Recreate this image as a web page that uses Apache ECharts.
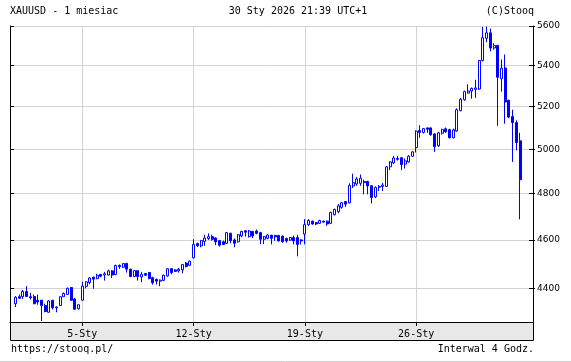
<!DOCTYPE html>
<html><head><meta charset="utf-8">
<script src="https://cdn.jsdelivr.net/npm/echarts@6/dist/echarts.min.js"></script>
<style>html,body{margin:0;padding:0;background:#fff}#c{width:571px;height:362px}</style>
</head><body><div id="c"></div>
<script>
// [open, close, low, high] — 4-hour candles, XAUUSD
const candles = [
[4338,4364,4325,4368],[4366,4360,4357,4375],[4366,4387,4357,4393],[4387,4367,4366,4409],
[4366,4362,4355,4382],[4367,4338,4336,4375],[4352,4345,4334,4375],[4352,4331,4270,4352],
[4331,4307,4304,4338],[4304,4349,4303,4352],[4352,4322,4315,4352],[4325,4322,4304,4327],
[4331,4366,4330,4367],[4366,4379,4365,4383],[4375,4400,4374,4403],[4403,4352,4349,4404],
[4357,4316,4315,4360],[4318,4334,4315,4334],[4352,4409,4351,4426],[4408,4426,4400,4429],
[4423,4442,4416,4445],[4445,4437,4398,4448],[4439,4453,4437,4459],[4456,4449,4445,4459],
[4454,4459,4431,4467],[4454,4471,4452,4476],[4471,4454,4442,4474],[4456,4493,4453,4497],
[4494,4489,4479,4497],[4486,4501,4483,4502],[4502,4478,4464,4504],[4478,4448,4445,4480],
[4448,4472,4445,4475],[4472,4448,4431,4472],[4446,4457,4425,4467],[4460,4453,4450,4462],
[4464,4440,4436,4467],[4443,4422,4415,4447],[4436,4429,4415,4440],[4429,4433,4408,4436],
[4432,4453,4429,4456],[4450,4480,4447,4483],[4480,4464,4457,4483],[4475,4469,4467,4478],
[4471,4478,4464,4483],[4475,4497,4461,4500],[4503,4489,4485,4508],[4494,4511,4492,4514],
[4525,4581,4522,4603],[4585,4575,4571,4589],[4575,4597,4569,4600],[4594,4608,4575,4622],
[4606,4614,4600,4628],[4614,4603,4597,4622],[4608,4592,4578,4611],[4597,4578,4572,4600],
[4592,4581,4578,4597],[4586,4631,4583,4633],[4628,4597,4586,4631],[4600,4586,4569,4606],
[4592,4622,4589,4625],[4617,4636,4611,4639],[4639,4633,4614,4642],[4614,4638,4610,4642],
[4636,4617,4608,4639],[4638,4628,4624,4644],[4631,4603,4582,4633],[4603,4614,4583,4617],
[4607,4621,4603,4624],[4620,4607,4581,4622],[4619,4613,4596,4622],[4619,4596,4593,4622],
[4616,4593,4588,4619],[4606,4596,4588,4610],[4599,4610,4596,4613],[4610,4596,4581,4619],
[4610,4581,4531,4622],[4600,4596,4581,4603],[4625,4665,4581,4689],[4665,4683,4660,4689],
[4680,4668,4665,4683],[4674,4668,4663,4677],[4671,4683,4668,4686],[4680,4676,4674,4683],
[4680,4668,4660,4683],[4671,4718,4668,4721],[4708,4731,4705,4734],[4721,4747,4714,4754],
[4740,4760,4734,4763],[4765,4754,4742,4768],[4760,4837,4757,4846],[4834,4849,4825,4889],
[4843,4865,4835,4874],[4846,4869,4835,4885],[4854,4849,4797,4862],[4854,4834,4797,4857],
[4835,4783,4757,4838],[4786,4828,4780,4832],[4828,4832,4812,4838],[4832,4838,4812,4848],
[4832,4920,4831,4923],[4920,4942,4905,4945],[4938,4960,4932,4969],[4958,4954,4948,4969],
[4961,4930,4905,4965],[4932,4947,4912,4958],[4942,4968,4939,4973],[4968,4988,4965,4991],
[5008,5084,4985,5088],[5087,5078,5053,5112],[5078,5096,5073,5099],[5099,5093,5076,5102],
[5099,5068,5062,5102],[5071,5012,4988,5074],[5016,5076,5011,5081],[5074,5091,5068,5096],
[5095,5081,5076,5101],[5091,5053,5050,5095],[5053,5090,5050,5096],[5085,5185,5081,5192],
[5181,5235,5177,5242],[5233,5272,5228,5277],[5265,5275,5263,5308],[5275,5288,5238,5292],
[5283,5290,5242,5330],[5285,5425,5280,5428],[5425,5540,5421,5595],[5537,5565,5517,5597],
[5565,5488,5471,5587],[5488,5501,5479,5512],[5501,5342,5109,5504],[5335,5387,5272,5430],
[5388,5222,5119,5455],[5230,5150,5145,5233],[5153,5124,4942,5185],[5124,5031,4995,5135],
[5039,4862,4688,5076]
];
const weekLabels = ['5-Sty','12-Sty','19-Sty','26-Sty'];
const weekStartCandle = [18, 48, 78, 108];
const yTicks = [4400, 4600, 4800, 5000, 5200, 5400, 5600];
const yMin = 4265.7, yMax = 5600;
const leadSlots = 1, tailSlots = 3;

const nSlots = leadSlots + candles.length + tailSlots;
const categories = Array.from({length: nSlots}, (_, i) => 's' + i);
const labelAt = {};
weekStartCandle.forEach((c, k) => { labelAt[c + leadSlots] = weekLabels[k]; });
const isWeek = (i) => labelAt[i] !== undefined;
const seriesData = candles.map((c, i) => [i + leadSlots, c[0], c[1], c[2], c[3]]);

const mono = 'DejaVu Sans Mono';
const chart = echarts.init(document.getElementById('c'), null, {renderer: 'canvas'});
chart.setOption({
  animation: false,
  backgroundColor: '#fff',
  grid: {left: 10, right: 38, top: 26, bottom: 40},
  xAxis: {
    type: 'category', data: categories, boundaryGap: true,
    axisLine: {show: true, lineStyle: {color: '#000', width: 1}},
    axisTick: {show: true, interval: (i) => isWeek(i), alignWithLabel: true, length: 4, lineStyle: {color: '#000'}},
    axisLabel: {interval: (i) => isWeek(i), formatter: (v, i) => labelAt[i] || '', margin: 7,
      color: '#000', fontFamily: mono, fontSize: 10},
    splitLine: {show: true, interval: (i) => isWeek(i), alignWithLabel: true, lineStyle: {color: '#d3d3d3', width: 1}}
  },
  yAxis: [
    {type: 'log', logBase: 10, min: yMin, max: yMax, position: 'right',
      axisLine: {show: true, lineStyle: {color: '#000'}},
      axisTick: {show: true, inside: false, length: 2, customValues: yTicks, lineStyle: {color: '#000'}},
      axisLabel: {customValues: yTicks, margin: 4, color: '#000', fontFamily: 'DejaVu Sans', fontSize: 9,
        formatter: (v) => String(Math.round(v))},
      splitLine: {show: true, lineStyle: {color: '#d3d3d3', width: 1}}},
    {type: 'log', logBase: 10, min: yMin, max: yMax, position: 'left',
      axisLine: {show: true, lineStyle: {color: '#000'}},
      axisTick: {show: true, inside: true, length: 4, customValues: yTicks, lineStyle: {color: '#000'}},
      axisLabel: {show: false}, splitLine: {show: false}},
    {type: 'log', logBase: 10, min: yMin, max: yMax, position: 'right',
      axisLine: {show: false},
      axisTick: {show: true, inside: true, length: 4, customValues: yTicks, lineStyle: {color: '#000'}},
      axisLabel: {show: false}, splitLine: {show: false}}
  ],
  series: [{
    type: 'candlestick', xAxisIndex: 0, yAxisIndex: 0, data: seriesData,
    encode: {x: 0, y: [1, 2, 3, 4]}, barWidth: 2.5, silent: true,
    itemStyle: {color: '#fff', color0: '#0000ff', borderColor: '#0000ff', borderColor0: '#0000ff',
      borderColorDoji: '#0000ff', borderWidth: 1}
  }],
  graphic: [
    {type: 'rect', z: -10, shape: {x: 10.5, y: 322.5, width: 523, height: 18},
      style: {fill: '#e8e8e8', stroke: '#000', lineWidth: 1}},
    {type: 'line', z: -10, shape: {x1: 0, y1: 361.5, x2: 571, y2: 361.5}, style: {stroke: '#d0d0d0', lineWidth: 1}},
    {type: 'text', left: 10, top: 6, style: {text: 'XAUUSD - 1 miesiac', font: '10px ' + mono, fill: '#000'}},
    {type: 'text', x: 298, y: 6, style: {text: '30 Sty 2026 21:39 UTC+1', font: '10px ' + mono, fill: '#000', textAlign: 'center'}},
    {type: 'text', x: 534, y: 6, style: {text: '(C)Stooq', font: '10px ' + mono, fill: '#000', textAlign: 'right'}},
    {type: 'text', x: 11, y: 344, style: {text: 'https://stooq.pl/', font: '10px ' + mono, fill: '#000'}},
    {type: 'text', x: 534, y: 344, style: {text: 'Interwal 4 Godz.', font: '10px ' + mono, fill: '#000', textAlign: 'right'}}
  ]
});
</script>
</body></html>
